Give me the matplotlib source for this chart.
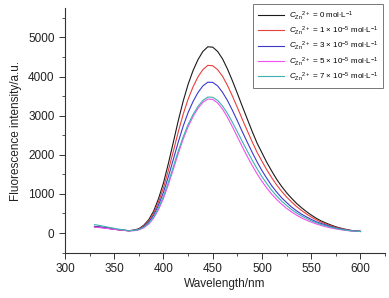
import matplotlib
matplotlib.use("Agg")
import matplotlib.pyplot as plt
from matplotlib.ticker import MultipleLocator

plt.rcParams['font.family'] = ['Liberation Sans', 'DejaVu Sans']
plt.rcParams['mathtext.fontset'] = 'custom'
plt.rcParams['mathtext.rm'] = 'Liberation Sans'
plt.rcParams['mathtext.it'] = 'Liberation Sans:italic'

# wavelength grid (nm)
wavelength = list(range(330, 601, 5))

# fluorescence intensity for each Zn2+ concentration
c0 = [170, 155, 140, 120, 100, 85, 70, 60,
      75, 110, 200, 340, 560, 880, 1280, 1780, 2320, 2870, 3370, 3800, 4150,
      4430, 4640, 4760, 4750, 4640, 4450, 4190, 3890, 3570, 3240, 2920, 2600,
      2300, 2050, 1800, 1580, 1370, 1190, 1030, 890, 760, 650, 550, 460, 380,
      310, 255, 205, 160, 125, 95, 70, 55, 45]
c1 = [160, 148, 133, 115, 97, 82, 68, 58,
      72, 102, 182, 308, 505, 795, 1155, 1605, 2090, 2585, 3035, 3420, 3735,
      3990, 4175, 4285, 4275, 4175, 4005, 3770, 3500, 3210, 2910, 2620, 2335,
      2065, 1835, 1610, 1410, 1225, 1065, 920, 795, 680, 580, 490, 410, 340,
      280, 230, 185, 145, 115, 88, 65, 52, 42]
c3 = [165, 150, 135, 117, 98, 83, 69, 58,
      70, 95, 165, 278, 455, 715, 1040, 1445, 1880, 2325, 2730, 3080, 3360,
      3590, 3760, 3855, 3850, 3760, 3595, 3385, 3135, 2870, 2590, 2325, 2065,
      1820, 1595, 1395, 1205, 1045, 900, 780, 665, 570, 485, 415, 350, 290,
      245, 205, 165, 130, 102, 80, 60, 48, 40]
c5 = [150, 138, 125, 110, 95, 80, 68, 58,
      60, 80, 135, 228, 380, 600, 885, 1240, 1630, 2030, 2400, 2715, 2975,
      3185, 3340, 3425, 3415, 3325, 3165, 2955, 2715, 2460, 2205, 1960, 1730,
      1515, 1320, 1145, 990, 855, 735, 630, 540, 460, 390, 330, 280, 235,
      195, 160, 130, 105, 85, 68, 55, 45, 38]
c7 = [215, 195, 170, 145, 120, 98, 80, 62,
      66, 88, 150, 250, 410, 645, 935, 1300, 1695, 2095, 2460, 2775, 3030,
      3235, 3390, 3475, 3470, 3390, 3245, 3055, 2830, 2590, 2340, 2100, 1865,
      1645, 1440, 1260, 1090, 945, 815, 705, 600, 515, 440, 375, 315, 265,
      220, 185, 150, 120, 95, 75, 58, 47, 40]

labels = [r'$C_{\mathrm{Zn}}$$^{2+}$ = 0 mol$\cdot$L$^{-1}$',
          r'$C_{\mathrm{Zn}}$$^{2+}$ = 1 × 10$^{-5}$ mol$\cdot$L$^{-1}$',
          r'$C_{\mathrm{Zn}}$$^{2+}$ = 3 × 10$^{-5}$ mol$\cdot$L$^{-1}$',
          r'$C_{\mathrm{Zn}}$$^{2+}$ = 5 × 10$^{-5}$ mol$\cdot$L$^{-1}$',
          r'$C_{\mathrm{Zn}}$$^{2+}$ = 7 × 10$^{-5}$ mol$\cdot$L$^{-1}$']
colors = ['#1a1a1a', '#e8403a', '#3a3ad0', '#f050f0', '#3fb0b0']

fig = plt.figure(figsize=(3.89, 2.98), dpi=100)
ax = fig.add_axes([0.167, 0.151, 0.823, 0.822])

for y, c, lab in zip([c0, c1, c3, c5, c7], colors, labels):
    ax.plot(wavelength, y, color=c, lw=0.8, label=lab)

ax.set_xlim(300, 625)
ax.set_ylim(-510, 5750)
ax.xaxis.set_minor_locator(MultipleLocator(25))
ax.yaxis.set_major_locator(MultipleLocator(1000))
ax.yaxis.set_minor_locator(MultipleLocator(500))
ax.set_xticks(range(300, 601, 50))
ax.spines['top'].set_visible(False)
ax.spines['right'].set_visible(False)
for s in ['left', 'bottom']:
    ax.spines[s].set_linewidth(0.8)
    ax.spines[s].set_color('#333333')
ax.tick_params(which='major', direction='out', length=4, width=0.7, labelsize=8.5, colors='#333333', labelcolor='#222222')
ax.tick_params(which='minor', direction='out', length=2.5, width=0.6, colors='#333333')

ax.set_xlabel('Wavelength/nm', fontsize=8.5, labelpad=2, color='#222222')
ax.set_ylabel('Fluorescence intensity/a.u.', fontsize=8.5, labelpad=4, color='#222222')

leg = ax.legend(loc='upper right', bbox_to_anchor=(1.0, 1.025), fontsize=5.8, frameon=True,
                fancybox=False, edgecolor='#555555', handlelength=3.2, handletextpad=0.6,
                borderpad=0.6, labelspacing=0.35, borderaxespad=0.3)
leg.get_frame().set_linewidth(0.7)

fig.savefig('out.png', dpi=100)
